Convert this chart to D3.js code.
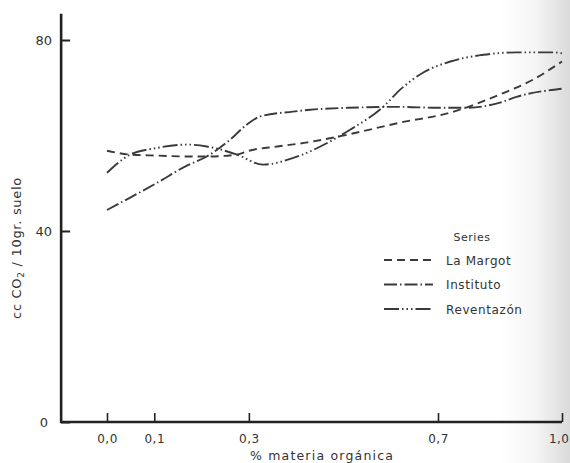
<!DOCTYPE html>
<html>
<head>
<meta charset="utf-8">
<script src="https://cdn.jsdelivr.net/npm/d3@7"></script>
<style>
  body { margin: 0; background: #fff; }
  text { font-family: "DejaVu Sans", sans-serif; fill: #333; }
</style>
</head>
<body>
<svg id="chart" width="570" height="463"></svg>
<script>
// values (x = % materia organica, y = cc CO2 / 10 gr suelo)
var xTicks = [0, 0.1, 0.3, 0.7, 1.0];
var yTicks = [0, 40, 80];
var seriesNames = ["La Margot", "Instituto", "Reventazón"];

var laMargotX = [0, 0.049, 0.106, 0.169, 0.211, 0.275, 0.30, 0.36, 0.42, 0.50, 0.62, 0.73, 0.85, 0.93, 1.0];
var laMargotY = [56.8, 56.0, 55.8, 55.6, 55.6, 56.0, 56.8, 57.7, 58.5, 60.0, 62.7, 64.8, 68.6, 71.7, 75.5];

var institutoX = [0, 0.049, 0.106, 0.169, 0.211, 0.26, 0.296, 0.324, 0.393, 0.43, 0.51, 0.62, 0.70, 0.77, 0.85, 0.89, 1.0];
var institutoY = [44.4, 47.0, 50.1, 53.7, 55.6, 59.1, 62.3, 64.0, 65.0, 65.4, 65.8, 66.0, 65.8, 65.8, 66.9, 68.1, 69.8];

var reventazonX = [0, 0.049, 0.106, 0.169, 0.211, 0.275, 0.33, 0.394, 0.478, 0.514, 0.584, 0.62, 0.669, 0.73, 0.81, 0.89, 0.98, 1.0];
var reventazonY = [52.2, 56.0, 57.4, 58.1, 57.7, 56.0, 53.9, 55.3, 59.1, 61.2, 66.0, 69.6, 73.2, 75.5, 76.9, 77.4, 77.4, 77.2];

var dashes = ["8,5", "13,3,1.5,3", "15,3,1.5,3,1.5,3,1.5,3"];

var svg = d3.select("#chart");

// paper shadow near the binding on the right
var defs = svg.append("defs");
var grad = defs.append("linearGradient").attr("id", "shade")
    .attr("x1", "0").attr("x2", "1").attr("y1", "0").attr("y2", "0");
grad.append("stop").attr("offset", "0").attr("stop-color", "#fff");
grad.append("stop").attr("offset", "0.5").attr("stop-color", "#f5f5f5");
grad.append("stop").attr("offset", "1").attr("stop-color", "#dadada");
svg.append("rect").attr("x", 500).attr("y", 0).attr("width", 70).attr("height", 463)
    .attr("fill", "url(#shade)");

// the photo is slightly stretched, so x is piecewise
var x = d3.scaleLinear().domain([0, 0.7, 1.0]).range([107, 438, 562]);
var y = d3.scaleLinear().domain([0, 80]).range([422, 40]);

var axisColor = "#222";

// axis lines
svg.append("line")
    .attr("x1", x(-0.097)).attr("x2", x(-0.097))
    .attr("y1", y(0) + 1).attr("y2", y(85.5))
    .attr("stroke", axisColor).attr("stroke-width", 2.6);
svg.append("line")
    .attr("x1", x(-0.097) - 1).attr("x2", x(1.0))
    .attr("y1", y(0)).attr("y2", y(0))
    .attr("stroke", axisColor).attr("stroke-width", 2.6);

var yAxis = svg.append("g")
    .attr("transform", "translate(" + x(-0.097) + ",0)")
    .call(d3.axisLeft(y).tickValues(yTicks).tickSize(-9).tickSizeOuter(0).tickPadding(9));
yAxis.select(".domain").remove();
yAxis.selectAll(".tick line").attr("stroke", axisColor).attr("stroke-width", 2);
yAxis.selectAll(".tick text").style("font-size", "13px").attr("fill", "#333");
yAxis.selectAll(".tick").filter(function(d) { return d === 0; }).select("text").attr("x", -13);

var xAxis = svg.append("g")
    .attr("transform", "translate(0," + y(0) + ")")
    .call(d3.axisBottom(x).tickValues(xTicks).tickSize(-9).tickSizeOuter(0).tickPadding(12)
        .tickFormat(function(d) { return d.toFixed(1).replace(".", ","); }));
xAxis.select(".domain").remove();
xAxis.selectAll(".tick line").attr("stroke", axisColor).attr("stroke-width", 1.6);
xAxis.selectAll(".tick text").style("font-size", "12px").style("letter-spacing", "0.5px").attr("fill", "#333");
xAxis.selectAll(".tick").filter(function(d) { return d === 1; }).select("text")
    .attr("text-anchor", "end").attr("x", 7);

// axis titles
svg.append("text")
    .attr("x", 322).attr("y", 460)
    .attr("text-anchor", "middle")
    .style("font-size", "12.5px").style("letter-spacing", "1.2px")
    .text("% materia orgánica");

var yl = svg.append("text")
    .attr("transform", "translate(21,248) rotate(-90)")
    .attr("text-anchor", "middle")
    .style("font-size", "13px").style("letter-spacing", "0.7px");
yl.append("tspan").text("cc CO");
yl.append("tspan").attr("baseline-shift", "-30%").style("font-size", "9px").text("2");
yl.append("tspan").text(" / 10gr. suelo");

// curves
var allX = [laMargotX, institutoX, reventazonX];
var allY = [laMargotY, institutoY, reventazonY];

var line = d3.line()
    .x(function(d) { return x(d[0]); })
    .y(function(d) { return y(d[1]); })
    .curve(d3.curveMonotoneX);

for (var i = 0; i < seriesNames.length; i++) {
    var pts = d3.zip(allX[i], allY[i]);
    svg.append("path")
        .datum(pts)
        .attr("d", line)
        .attr("fill", "none")
        .attr("stroke", "#3a3a3a")
        .attr("stroke-width", 1.9)
        .attr("stroke-dasharray", dashes[i]);
}

// legend
svg.append("text")
    .attr("x", 472).attr("y", 241)
    .attr("text-anchor", "middle")
    .style("font-size", "11px").style("letter-spacing", "0.5px")
    .text("Series");

var leg = svg.append("g").selectAll("g")
    .data(seriesNames)
    .enter().append("g")
    .attr("transform", function(d, i) { return "translate(384," + (260 + i * 24.5) + ")"; });

leg.append("line")
    .attr("x1", 0).attr("x2", 49)
    .attr("stroke", "#3a3a3a").attr("stroke-width", 1.9)
    .attr("stroke-dasharray", function(d, i) { return dashes[i]; });

leg.append("text")
    .attr("x", 62).attr("y", 4.5)
    .style("font-size", "12px").style("letter-spacing", "0.6px")
    .text(function(d) { return d; });
</script>
</body>
</html>
